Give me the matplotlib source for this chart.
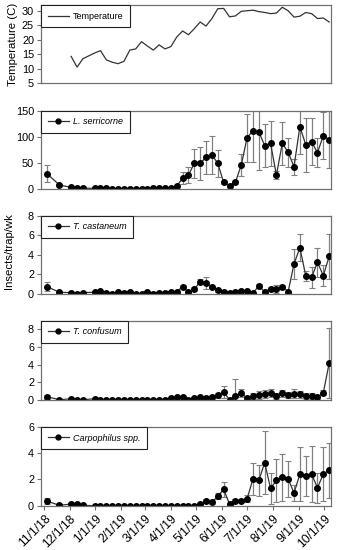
import numpy as np
import pandas as pd
import matplotlib
matplotlib.use("Agg")
import matplotlib.pyplot as plt
from matplotlib.lines import Line2D

plt.rcParams['font.family'] = ['Liberation Sans', 'DejaVu Sans']

# ---- sampling dates ----
early_dates = ["2018-11-04", "2018-11-19", "2018-12-03", "2018-12-10", "2018-12-17"]
weekly_start = "2018-12-31"
n_weekly = 41
dates = pd.to_datetime(early_dates + list(pd.date_range(weekly_start, periods=n_weekly, freq="7D").strftime("%Y-%m-%d")))

# ---- temperature (C) ----
temperature = [np.nan, np.nan, 14.2, 10.5, 13.4,
               15.4, 16.2, 13.0, 12.2, 11.7, 12.5, 16.4, 16.8, 19.3, 17.8,
               16.4, 18.2, 16.8, 17.6, 20.9, 23.0, 21.7, 23.8, 26.1, 24.7,
               27.3, 30.7, 30.8, 27.9, 28.2, 29.8, 30.0, 30.2, 29.7, 29.4,
               29.0, 29.2, 31.2, 30.0, 27.8, 28.1, 29.4, 29.0, 27.3, 27.5, 26.1]

# ---- L. serricorne ----
lser = [28.8, 7, 2.5, 1, 1,
        0.5, 0.5, 0.5, 0, 0, 0, 0, 0, 0, 0,
        0.5, 0.5, 0.5, 1, 5, 20, 26, 48.7, 48.7, 60,
        64.7, 48.7, 12, 5.8, 12, 45, 98, 111, 109, 82.7,
        87, 26, 87, 70, 42, 119, 84.6, 90, 69, 102, 94]
lser_err = [16, 2, 1, 0.5, 0.5,
            0.3, 0.3, 0.3, 0, 0, 0, 0, 0, 0, 0,
            0.3, 0.3, 0.3, 0.5, 2, 12, 16, 28, 32, 32,
            36, 26, 3, 1, 3, 21, 46, 59, 74, 41,
            43, 8, 41, 28, 15, 53, 52, 45, 28, 46, 55]

# ---- T. castaneum ----
tcas = [0.75, 0.17, 0.14, 0.03, 0.14,
        0.17, 0.3, 0.14, 0.0, 0.24, 0.14, 0.24, 0.0, 0.0, 0.2,
        0.03, 0.14, 0.14, 0.24, 0.24, 0.75, 0.2, 0.48, 1.26, 1.12,
        0.71, 0.4, 0.24, 0.14, 0.24, 0.34, 0.34, 0.1, 0.82, 0.2,
        0.54, 0.54, 0.75, 0.24, 3.06, 4.73, 1.87, 1.7, 3.23, 1.87, 3.84]
tcas_err = [0.45, 0.05, 0.05, 0.03, 0.05,
            0.05, 0.1, 0.05, 0, 0.1, 0.05, 0.1, 0, 0, 0.1,
            0.03, 0.05, 0.05, 0.1, 0.1, 0.2, 0.1, 0.2, 0.25, 0.57,
            0.15, 0.15, 0.1, 0.05, 0.1, 0.1, 0.1, 0.05, 0.2, 0.1,
            0.2, 0.4, 0.2, 0.1, 1.5, 1.35, 0.5, 1.1, 1.5, 1.05, 2.3]

# ---- T. confusum ----
tcon = [0.34, 0, 0.1, 0, 0,
        0.1, 0, 0, 0, 0, 0, 0, 0, 0, 0,
        0, 0, 0, 0.15, 0.26, 0.26, 0, 0.15, 0.26, 0.15,
        0.3, 0.5, 0.87, 0, 0.38, 0.76, 0.15, 0.42, 0.53, 0.64,
        0.72, 0.42, 0.72, 0.53, 0.68, 0.64, 0.42, 0.42, 0.3, 0.8, 4.17]
tcon_err = [0.25, 0, 0.1, 0, 0,
            0.1, 0, 0, 0, 0, 0, 0, 0, 0, 0,
            0, 0, 0, 0.1, 0.15, 0.15, 0, 0.1, 0.15, 0.1,
            0.2, 0.3, 0.7, 0, 2.0, 0.45, 0.1, 0.3, 0.45, 0.45,
            0.45, 0.3, 0.4, 0.3, 0.5, 0.4, 0.3, 0.3, 0.2, 0.3, 4.0]

# ---- Carpophilus spp. ----
carp = [0.35, 0.03, 0.13, 0.15, 0.03,
        0, 0, 0, 0, 0, 0, 0, 0, 0, 0,
        0, 0, 0, 0, 0, 0, 0, 0, 0.13, 0.38,
        0.25, 0.73, 1.24, 0.13, 0.38, 0.38, 0.53, 2.03, 1.92, 3.27,
        1.32, 1.92, 2.15, 2.05, 0.96, 2.4, 2.25, 2.4, 1.37, 2.4, 2.7]
carp_err = [0.25, 0.03, 0.05, 0.05, 0.03,
            0, 0, 0, 0, 0, 0, 0, 0, 0, 0,
            0, 0, 0, 0, 0, 0, 0, 0, 0.05, 0.1,
            0.1, 0.25, 0.6, 0.05, 0.1, 0.1, 0.25, 1.2, 1.2, 2.4,
            1.2, 1.6, 1.77, 1.37, 0.63, 2.05, 1.5, 2.1, 1.15, 2.05, 2.1]

insects = [
    ("L. serricorne", lser, lser_err, (0, 150), [0, 50, 100, 150]),
    ("T. castaneum", tcas, tcas_err, (0, 8), [0, 2, 4, 6, 8]),
    ("T. confusum", tcon, tcon_err, (0, 9), [0, 2, 4, 6, 8]),
    ("Carpophilus spp.", carp, carp_err, (0, 6), [0, 2, 4, 6]),
]
temp_ylim = (5, 32)
temp_yticks = [5, 10, 15, 20, 25, 30]
month_ticks = pd.date_range("2018-11-01", "2019-10-01", freq="MS")
xlim = (pd.Timestamp("2018-10-28"), pd.Timestamp("2019-10-09"))

SPINE = "#707070"
LINE = "#333333"
fig = plt.figure(figsize=(3.39, 5.50), dpi=100)

left, width = 0.121, 0.855
bottoms = [0.849, 0.657, 0.4655, 0.2733, 0.0805]
heights = [0.142, 0.142, 0.1424, 0.1436, 0.1436]
axes = [fig.add_axes([left, b, width, h]) for b, h in zip(bottoms, heights)]

def style(ax):
    for s in ax.spines.values():
        s.set_color(SPINE)
        s.set_linewidth(0.9)
    ax.tick_params(axis='y', direction='out', length=3, width=0.8, color=SPINE,
                   labelsize=7.8, pad=2)
    ax.set_xlim(*xlim)

def add_legend(ax, handle, label, italic):
    prop = {'size': 6.5}
    if italic:
        prop['style'] = 'italic'
    leg = ax.legend([handle], [label], loc="upper left", borderaxespad=0,
                    fancybox=False, prop=prop, handlelength=2.3,
                    borderpad=0.75, handletextpad=0.5)
    leg.get_frame().set_edgecolor("#222222")
    leg.get_frame().set_linewidth(0.8)
    leg.get_frame().set_alpha(1)

# temperature
ax = axes[0]
ax.plot(dates, temperature, color=LINE, lw=0.9)
ax.set_ylim(*temp_ylim)
ax.set_yticks(temp_yticks)
ax.set_ylabel("Temperature (C)", fontsize=8.2, labelpad=3)
style(ax)
ax.set_xticks([])
add_legend(ax, Line2D([], [], color=LINE, lw=0.9), "Temperature", False)

for i, (name, vals, errs, ylim, yt) in enumerate(insects):
    ax = axes[i + 1]
    ax.errorbar(dates, vals, yerr=errs, color=LINE, lw=0.9, marker="o",
                ms=4, mfc="black", mec="black", ecolor="#808080", elinewidth=0.9,
                capsize=2.2, capthick=0.8)
    ax.set_ylim(*ylim)
    ax.set_yticks(yt)
    style(ax)
    add_legend(ax, Line2D([], [], color=LINE, lw=0.9, marker="o", ms=3.5,
                          mfc="black", mec="black"), name, True)
    if i < len(insects) - 1:
        ax.set_xticks([])
    else:
        ax.set_xticks(month_ticks)
        ax.set_xticklabels([f"{d.month}/{d.day}/{d.strftime('%y')}" for d in month_ticks],
                           rotation=45, ha="right", rotation_mode="anchor", fontsize=8.8)
        ax.tick_params(axis='x', direction='out', length=3, width=0.8, color=SPINE, pad=2)

fig.text(0.028, 0.544, "Insects/trap/wk", rotation=90, va="center", ha="center", fontsize=8.2)

fig.savefig("out.png", dpi=100)
